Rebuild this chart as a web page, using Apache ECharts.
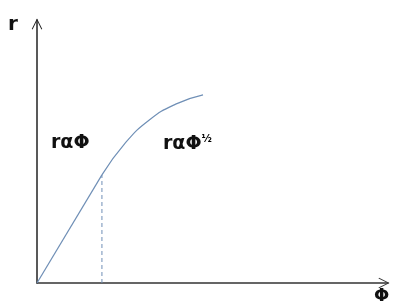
<!DOCTYPE html>
<html>
<head>
<meta charset="utf-8">
<script src="https://cdn.jsdelivr.net/npm/echarts@6/dist/echarts.min.js"></script>
<style>
	html, body { margin: 0; padding: 0; background: #fff; }
	#chart { width: 395px; height: 307px; }
</style>
</head>
<body>
<div id="chart"></div>
<script>
	// 数据 (任意单位)
	var linear_data = [[0, 0], [1.85, 4.11]];
	var sqrt_data = [[1.85, 4.11], [2.5, 5.3], [3.2, 6.2], [3.95, 6.8], [4.73, 7.15]];
	var kink_data = [[1.85, 0], [1.85, 4.11]];
	var axis_max = [10, 10];

	var arrow = 'path://M0,10 L5,0 L10,10 L9.2,10.5 L5,1.8 L0.8,10.5 Z';
	var line_color = '#6f8fb6';
	var font = 'DejaVu Sans';

	var myChart = echarts.init(document.getElementById('chart'));

	var option = {
		animation: false,
		backgroundColor: '#fff',
		grid: { left: 37, top: 20, right: 7, bottom: 24 },
		xAxis: {
			type: 'value',
			min: 0,
			max: axis_max[0],
			splitLine: { show: false },
			axisTick: { show: false },
			axisLabel: { show: false },
			axisLine: {
				onZero: false,
				symbol: ['none', arrow],
				symbolSize: [15, 11],
				symbolOffset: [0, -4],
				lineStyle: { color: '#333', width: 1.5 }
			}
		},
		yAxis: {
			type: 'value',
			min: 0,
			max: axis_max[1],
			splitLine: { show: false },
			axisTick: { show: false },
			axisLabel: { show: false },
			axisLine: {
				onZero: false,
				symbol: ['none', arrow],
				symbolSize: [15, 11],
				symbolOffset: [0, -4],
				lineStyle: { color: '#222', width: 1.5 }
			}
		},
		series: [{
			type: 'line',
			data: linear_data,
			symbol: 'none',
			lineStyle: { color: line_color, width: 1.2 }
		}, {
			type: 'line',
			data: sqrt_data,
			symbol: 'none',
			smooth: 0.5,
			lineStyle: { color: line_color, width: 1.2 }
		}, {
			type: 'line',
			data: kink_data,
			symbol: 'none',
			lineStyle: { color: line_color, width: 1, type: [4, 3] }
		}],
		graphic: [{
			type: 'text', left: 8, top: 15,
			style: { text: 'r', font: 'bold 20px ' + font, fill: '#111' }
		}, {
			type: 'text', left: 374, top: 287,
			style: { text: 'Φ', font: 'bold 18px ' + font, fill: '#111' }
		}, {
			type: 'text', left: 51, top: 134,
			style: { text: 'rαΦ', font: 'bold 19px ' + font, fill: '#111' }
		}, {
			type: 'text', left: 163, top: 134,
			style: {
				text: '{a|rαΦ}{b|½}',
				rich: {
					a: { font: 'bold 19px ' + font, fill: '#111', color: '#111' },
					b: { font: 'bold 10px ' + font, color: '#111', padding: [0, 0, 10, 0] }
				}
			}
		}]
	};
	myChart.setOption(option);
</script>
</body>
</html>
